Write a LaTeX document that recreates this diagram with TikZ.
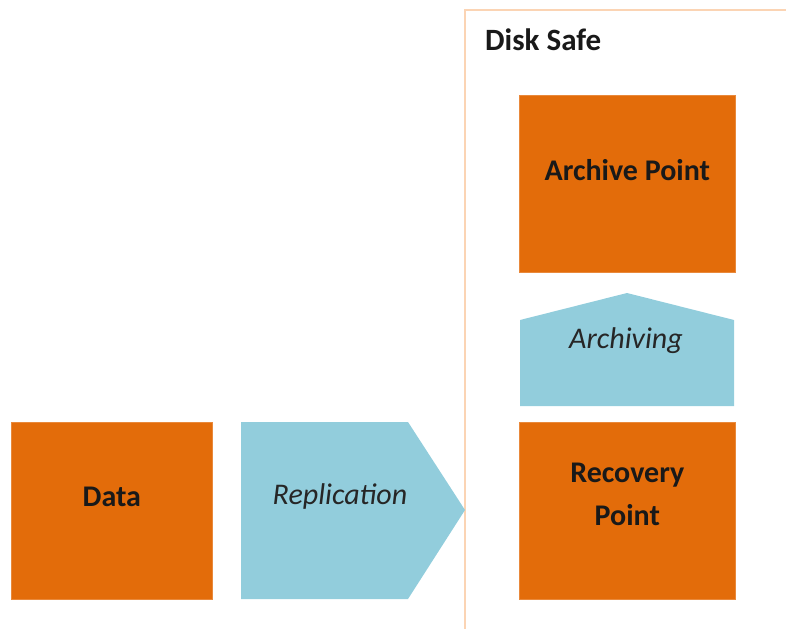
\documentclass[tikz,border=0pt]{standalone}
\usepackage{fontspec}
\setmainfont{Carlito}
\definecolor{boxorange}{HTML}{E36C0A}
\definecolor{arrowblue}{HTML}{92CDDC}
\definecolor{safeline}{HTML}{FBD4B4}
\begin{document}
\begin{tikzpicture}[x=1pt,y=-1pt,
  orangebox/.style={fill=boxorange, draw=boxorange!80!white, line width=0.6pt, minimum width=201pt, minimum height=177pt, inner sep=0pt, anchor=north west},
  boxlabel/.style={font=\fontsize{30}{43}\selectfont\bfseries, text=black!90, align=center, inner sep=0pt},
  arrowlabel/.style={font=\fontsize{30}{36}\selectfont\itshape, text=black!85, inner sep=0pt},
  bluefill/.style={fill=arrowblue, draw=none}]
\useasboundingbox (0,0) rectangle (786,629);
% Disk safe frame
\draw[safeline, line width=1.5pt] (786,10) -- (465,10) -- (465,629);
\node[font=\fontsize{31}{36}\selectfont\bfseries, anchor=west, text=black!90, inner sep=0pt] (safe) at (485,40) {Disk Safe};
% Data
\node[orangebox] (data) at (11,422) {};
\node[boxlabel] (datatxt) at ([yshift=14pt]data.center) {Data};
% Replication chevron
\fill[bluefill] (241,422) coordinate (r1) -- (408,422) -- (465,510) coordinate (rtip) -- (408,599) -- (241,599) -- cycle;
\node[arrowlabel] (repl) at (340,496) {Replication};
% Archive point
\node[orangebox, minimum width=216pt] (arch) at (519,95) {};
\node[boxlabel] (archtxt) at ([yshift=14pt]arch.center) {Archive Point};
% Archiving
\fill[bluefill] (520,406) -- (520,320) -- (627,293) coordinate (atip) -- (734,320) -- (734,406) -- cycle;
\node[arrowlabel] (archiving) at (626,341) {Archiving};
% Recovery point
\node[orangebox, minimum width=216pt] (rec) at (519,422) {};
\node[boxlabel] (rectxt) at ([yshift=16pt]rec.center) {Recovery\\Point};
\end{tikzpicture}
\end{document}
